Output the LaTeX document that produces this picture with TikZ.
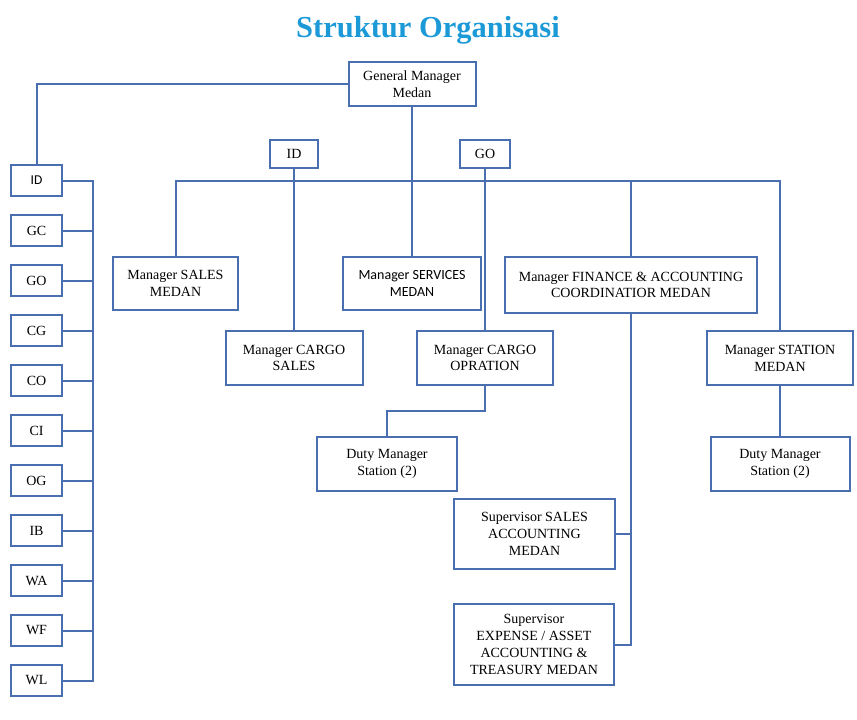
\documentclass[tikz,border=0pt]{standalone}
\usepackage{fontspec}
\setmainfont{Liberation Serif}
\newfontfamily\calfont{Carlito}
\usetikzlibrary{positioning}
\definecolor{org_blue}{HTML}{4A6FB0}
\colorlet{orgblue}{org_blue}
\definecolor{title_blue}{HTML}{1C9AD8}
\tikzset{
  unit/.style={draw=orgblue,line width=2pt,fill=white,align=center,outer sep=0pt,inner sep=2pt,font=\fontsize{14}{16.8}\selectfont},
  unit_s/.style={unit,font=\calfont\fontsize{14}{17.5}\selectfont},
  code/.style={unit,minimum width=51pt,minimum height=31pt},
  link/.style={draw=orgblue,line width=2pt},
  title/.style={text=title_blue,font=\bfseries\fontsize{30.5}{34}\selectfont},
}

\begin{document}
\begin{tikzpicture}[x=1pt,y=-1pt]
	\useasboundingbox (0,0) rectangle (857,720);
	\node[title] (title) at (428,30) {Struktur Organisasi};
	% top level
	\node[unit,minimum width=127pt,minimum height=44pt] (gm) at (412,84) {General Manager\\Medan};
	\node[unit,minimum width=48pt,minimum height=28pt] (id_top) at (294,154) {ID};
	\node[unit,minimum width=50pt,minimum height=28pt] (go_top) at (485,154) {GO};
	\coordinate (bus) at (412,181);
	% managers
	\node[unit,minimum width=125pt,minimum height=53pt] (sales) at (175.5,283.5) {Manager SALES\\MEDAN};
	\node[unit_s,minimum width=138pt,minimum height=53pt] (services) at (412,283.5) {Manager SERVICES\\MEDAN};
	\node[unit,minimum width=252pt,minimum height=56pt] (finance) at (631,285) {Manager FINANCE \& ACCOUNTING\\COORDINATIOR MEDAN};
	\node[unit,minimum width=137pt,minimum height=54pt] (cargo_sales) at (294,358) {Manager CARGO\\SALES};
	\node[unit,minimum width=136pt,minimum height=54pt] (cargo_op) at (485,358) {Manager CARGO\\OPRATION};
	\node[unit,minimum width=146pt,minimum height=54pt] (station) at (780,358) {Manager STATION\\MEDAN};
	\node[unit,minimum width=140pt,minimum height=54pt] (duty_a) at (387,464) {Duty Manager\\Station (2)};
	\node[unit,minimum width=139pt,minimum height=54pt] (duty_b) at (780,464) {Duty Manager\\Station (2)};
	\node[unit,minimum width=161pt,minimum height=70pt] (sup_sales) at (534.5,534) {Supervisor SALES\\ACCOUNTING\\MEDAN};
	\node[unit,minimum width=160pt,minimum height=81pt] (sup_exp) at (534,644.5) {Supervisor\\EXPENSE / ASSET\\ACCOUNTING \&\\TREASURY MEDAN};
	% left column
	\node[code,font=\calfont\fontsize{13.5}{16}\selectfont] (l_id) at (36.5,180.5) {ID};
	\node[code,below=19pt of l_id] (l_gc) {GC};
	\node[code,below=19pt of l_gc] (l_go) {GO};
	\node[code,below=19pt of l_go] (l_cg) {CG};
	\node[code,below=19pt of l_cg] (l_co) {CO};
	\node[code,below=19pt of l_co] (l_ci) {CI};
	\node[code,below=19pt of l_ci] (l_og) {OG};
	\node[code,below=19pt of l_og] (l_ib) {IB};
	\node[code,below=19pt of l_ib] (l_wa) {WA};
	\node[code,below=19pt of l_wa] (l_wf) {WF};
	\node[code,below=19pt of l_wf] (l_wl) {WL};
	\coordinate (lbus) at (93,180.5);
	% connectors
	\draw[link] (gm.west) -| (l_id.north);
	\draw[link] (gm.south) -- (services.north);
	\draw[link] (sales.north) -- (sales.north |- bus) -- (station.north |- bus) -- (station.north);
	\draw[link] (finance.north) -- (finance.north |- bus);
	\draw[link] (id_top.south) -- (cargo_sales.north);
	\draw[link] (go_top.south) -- (cargo_op.north);
	\draw[link] (cargo_op.south) -- ++(0,26) -| (duty_a.north);
	\draw[link] (station.south) -- (duty_b.north);
	\draw[link] (finance.south) -- (finance.south |- sup_exp.east) -- (sup_exp.east);
	\draw[link] (sup_sales.east) -- (sup_sales.east -| finance.south);
	\draw[link] (l_id.east) -- (l_id.east -| lbus) -- (l_wl.east -| lbus) -- (l_wl.east);
	\draw[link] (l_gc.east) -- (l_gc.east -| lbus);
	\draw[link] (l_go.east) -- (l_go.east -| lbus);
	\draw[link] (l_cg.east) -- (l_cg.east -| lbus);
	\draw[link] (l_co.east) -- (l_co.east -| lbus);
	\draw[link] (l_ci.east) -- (l_ci.east -| lbus);
	\draw[link] (l_og.east) -- (l_og.east -| lbus);
	\draw[link] (l_ib.east) -- (l_ib.east -| lbus);
	\draw[link] (l_wa.east) -- (l_wa.east -| lbus);
	\draw[link] (l_wf.east) -- (l_wf.east -| lbus);
\end{tikzpicture}
\end{document}
